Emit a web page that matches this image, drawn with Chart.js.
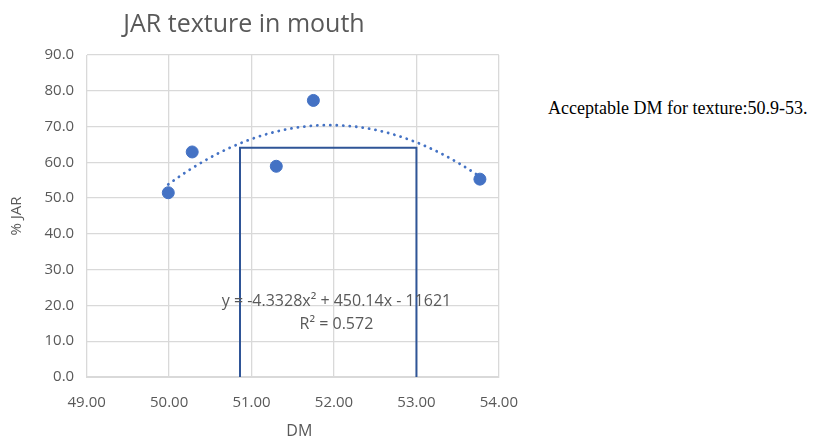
<!DOCTYPE html>
<html>
<head>
<meta charset="utf-8">
<script src="https://cdn.jsdelivr.net/npm/chart.js@4"></script>
<style>
  body { margin: 0; background: #fff; }
  #wrap { position: absolute; left: 0; top: 0; width: 535px; height: 438px; }
  #note { position: absolute; left: 548px; top: 98px; font-family: "Liberation Serif", serif; font-size: 18px; color: #000; white-space: nowrap; }
</style>
</head>
<body>
<div id="wrap"><canvas id="chart"></canvas></div>
<div id="note">Acceptable DM for texture:50.9-53.</div>
<script>
// measured points
const dmValues = [49.99, 50.28, 51.30, 51.75, 53.77];
const jarValues = [51.5, 62.9, 58.9, 77.3, 55.3];

// acceptable DM box: drawn from ~50.86 to 53, height ~64
const boxX = [50.86, 50.86, 53.0, 53.0];
const boxY = [0, 64.1, 64.1, 0];

// poly trendline shown in the chart: y = a x^2 + b x + c
const trendCoef = [-4.3328, 450.14, -11621];
const trendLabel = ['y = -4.3328x\u00B2 + 450.14x - 11621', 'R\u00B2 = 0.572'];

const xTicks = [49, 50, 51, 52, 53, 54];

const gray = '#595959';
const font = "'Open Sans', 'Liberation Sans', sans-serif";

// trendline + title + x title, drawn by hand so they sit where the original has them
const trendPlugin = {
  id: 'trend',
  afterDatasetsDraw(chart) {
    const ctx = chart.ctx;
    const xs = chart.scales.x, ys = chart.scales.y;
    const x0 = Math.min(...dmValues), x1 = Math.max(...dmValues);
    ctx.save();
    ctx.strokeStyle = '#4472C4';
    ctx.lineWidth = 2.8;
    ctx.setLineDash([0.1, 6.4]);
    ctx.lineCap = 'round';
    ctx.beginPath();
    for (let i = 0; i <= 100; i++) {
      const x = x0 + (x1 - x0) * i / 100;
      const y = trendCoef[0] * x * x + trendCoef[1] * x + trendCoef[2];
      const px = xs.getPixelForValue(x), py = ys.getPixelForValue(y);
      if (i === 0) ctx.moveTo(px, py); else ctx.lineTo(px, py);
    }
    ctx.stroke();
    ctx.setLineDash([]);
    // equation label
    ctx.fillStyle = gray;
    ctx.font = '16px ' + font;
    ctx.textAlign = 'center';
    ctx.textBaseline = 'middle';
    const cx = xs.getPixelForValue(52.03);
    ctx.fillText(trendLabel[0], cx, ys.getPixelForValue(21.2));
    ctx.fillText(trendLabel[1], cx, ys.getPixelForValue(14.8));
    // chart title
    ctx.font = '25px ' + font;
    ctx.fillText('JAR texture in mouth', 244, 25);
    // x axis title
    ctx.font = '16px ' + font;
    ctx.fillText('DM', xs.getPixelForValue(51.58), ys.bottom + 54);
    ctx.restore();
  }
};

new Chart(document.getElementById('chart'), {
  type: 'scatter',
  data: {
    datasets: [
      {
        label: 'box',
        type: 'line',
        data: boxX.map((x, i) => ({ x: x, y: boxY[i] })),
        borderColor: '#2F5597',
        borderWidth: 2,
        pointRadius: 0,
        fill: false,
        tension: 0,
        order: 2
      },
      {
        label: '% JAR',
        data: dmValues.map((x, i) => ({ x: x, y: jarValues[i] })),
        backgroundColor: '#4472C4',
        borderColor: '#4472C4',
        pointRadius: 6,
        order: 1
      }
    ]
  },
  options: {
    responsive: true,
    maintainAspectRatio: false,
    animation: false,
    layout: { padding: { top: 55, right: 27, bottom: 9, left: 4 } },
    plugins: {
      legend: { display: false },
      tooltip: { enabled: false },
      title: { display: false }
    },
    scales: {
      x: {
        type: 'linear',
        min: 49,
        max: 54,
        afterBuildTicks: axis => { axis.ticks = xTicks.map(v => ({ value: v })); },
        ticks: {
          color: gray,
          font: { family: font, size: 15 },
          callback: v => v.toFixed(2),
          padding: 17
        },
        grid: { color: '#D9D9D9', lineWidth: 1.3, drawTicks: false },
        border: { color: '#D9D9D9' }
      },
      y: {
        min: 0,
        max: 90,
        ticks: {
          stepSize: 10,
          color: gray,
          font: { family: font, size: 15 },
          callback: v => v.toFixed(1),
          padding: 12.5
        },
        grid: { color: '#D9D9D9', lineWidth: 1.3, drawTicks: false },
        border: { color: '#D9D9D9' },
        title: {
          display: true,
          text: '% JAR',
          color: gray,
          font: { family: font, size: 15 },
          padding: { bottom: 6 }
        }
      }
    }
  },
  plugins: [trendPlugin]
});
</script>
</body>
</html>
